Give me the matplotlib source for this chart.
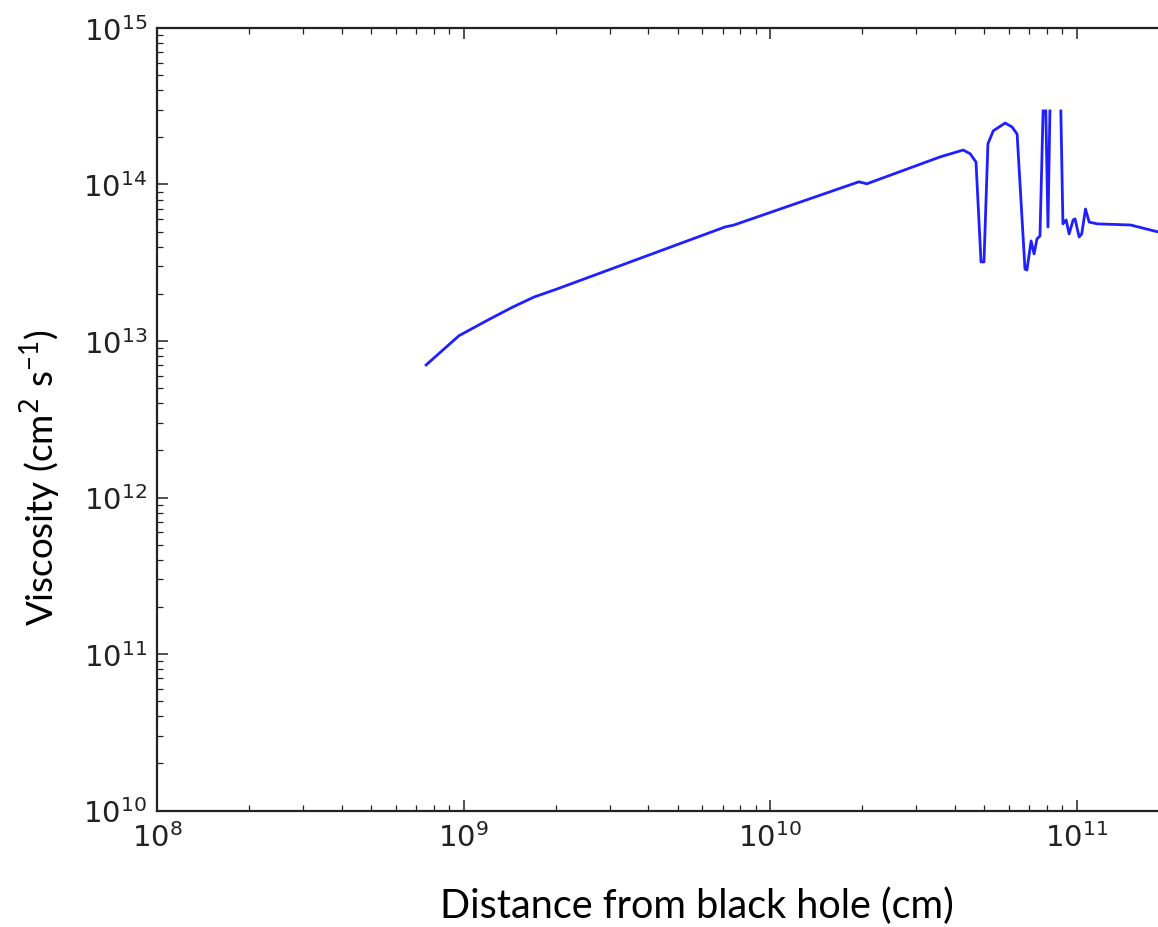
import numpy as np
import matplotlib
matplotlib.use("Agg")
import matplotlib.pyplot as plt
from matplotlib.ticker import LogLocator, FixedLocator, NullFormatter

# radius (cm) and kinematic viscosity (cm^2 s^-1); nan breaks the line where it leaves the frame
radius = [7.55e8, 9.66e8, 1.20e9, 1.45e9, 1.70e9, 2.02e9, 7.13e9, 7.63e9, 1.95e10,
          2.07e10, 3.59e10, 4.27e10, 4.50e10, 4.70e10, 4.88e10, 4.99e10, 5.14e10,
          5.35e10, 5.85e10, 6.16e10, 6.40e10, 6.79e10, 6.89e10, 7.11e10, 7.27e10,
          7.43e10, 7.60e10, 7.78e10, np.nan, 7.94e10, 8.07e10, 8.19e10, np.nan,
          8.89e10, 9.03e10, 9.25e10, 9.46e10, 9.75e10, 9.89e10, 1.02e11, 1.04e11,
          1.07e11, 1.10e11, 1.17e11, 1.50e11, 1.85e11, 2.34e11]
viscosity = [7.03e12, 1.08e13, 1.36e13, 1.65e13, 1.91e13, 2.15e13, 5.35e13, 5.51e13,
             1.04e14, 1.01e14, 1.50e14, 1.66e14, 1.57e14, 1.39e14, 3.20e13, 3.20e13,
             1.82e14, 2.20e14, 2.47e14, 2.33e14, 2.10e14, 2.88e13, 2.84e13, 4.36e13,
             3.60e13, 4.49e13, 4.69e13, 2.95e14, np.nan, 2.95e14, 5.35e13, 2.95e14,
             np.nan, 2.95e14, 5.60e13, 5.93e13, 4.83e13, 5.93e13, 6.03e13, 4.62e13,
             4.83e13, 6.97e13, 5.75e13, 5.60e13, 5.51e13, 4.97e13, 4.30e13]

xticks = [1e8, 1e9, 1e10, 1e11]
yticks = [1e10, 1e11, 1e12, 1e13, 1e14, 1e15]
xlim = (1e8, 1e12)
ylim = (1e10, 1e15)

fig = plt.figure(figsize=(11.58, 9.28), dpi=100)
# axes run past the right edge of the figure
ax = fig.add_axes([0.1356, 0.1255, 1.0587, 0.8433])

ax.plot(radius, viscosity, color="#1f1fff", lw=2.0)
ax.set_xscale("log")
ax.set_yscale("log")
ax.set_xlim(*xlim)
ax.set_ylim(*ylim)

ax.xaxis.set_major_locator(FixedLocator(xticks))
ax.yaxis.set_major_locator(FixedLocator(yticks))
for axis in (ax.xaxis, ax.yaxis):
    axis.set_minor_locator(LogLocator(base=10, subs=np.arange(2, 10), numticks=20))
    axis.set_minor_formatter(NullFormatter())

ax.tick_params(which="both", direction="in", top=True, right=True, color="#222222")
ax.tick_params(which="major", length=8, width=1.1, labelsize=21, colors="#222222")
ax.tick_params(which="minor", length=4, width=0.9)
ax.tick_params(axis="x", which="major", pad=8)
ax.tick_params(axis="y", which="major", pad=7)
for s in ax.spines.values():
    s.set_linewidth(1.6)
    s.set_color("#222222")

fig.text(697 / 1158, 1 - 906 / 928, "Distance from black hole (cm)",
         ha="center", va="center", fontsize=28.5, family="Lato", color="black")
fig.text(40 / 1158, 1 - 478 / 928, r"Viscosity (cm$^{2}$ s$^{\mathregular{-1}}$)",
         ha="center", va="center", rotation=90, fontsize=26.5, family="Lato",
         color="black")

fig.savefig("out.png", dpi=100)
